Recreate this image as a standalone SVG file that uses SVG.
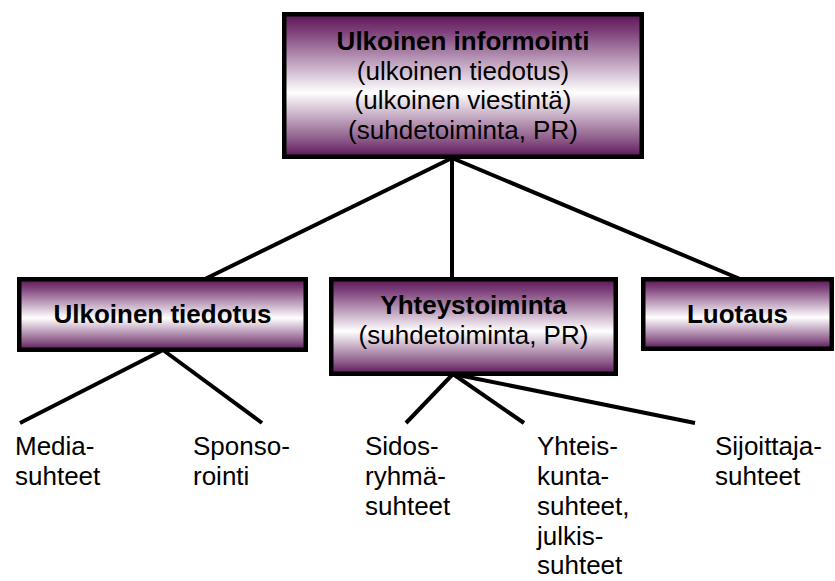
<svg xmlns="http://www.w3.org/2000/svg" width="835" height="581" viewBox="0 0 835 581">
<defs>
<linearGradient id="g" x1="0" y1="0" x2="0" y2="1">
<stop offset="0" stop-color="#5a1656"/>
<stop offset="0.12" stop-color="#7d407a"/>
<stop offset="0.55" stop-color="#ffffff"/>
<stop offset="0.88" stop-color="#8d5a8a"/>
<stop offset="1" stop-color="#5a1656"/>
</linearGradient>
<style>
.box{fill:url(#g);stroke:#000;stroke-width:4.5}
.t{font-family:"Liberation Sans",Arial,sans-serif;font-size:26px;fill:#000;text-anchor:middle}
.b{font-weight:bold}
.lbl{font-family:"Liberation Sans",Arial,sans-serif;font-size:26px;fill:#000}
.c{stroke:#000;stroke-width:4;fill:none}
</style>
</defs>
<rect width="835" height="581" fill="#fff"/>
<g id="connectors">
<line class="c" x1="452" y1="158" x2="205" y2="279"/>
<line class="c" x1="452" y1="158" x2="452" y2="279"/>
<line class="c" x1="452" y1="158" x2="740" y2="279"/>
<line class="c" x1="163" y1="350" x2="20" y2="423"/>
<line class="c" x1="163" y1="350" x2="262" y2="423"/>
<line class="c" x1="453" y1="374" x2="406" y2="423"/>
<line class="c" x1="453" y1="374" x2="524" y2="423"/>
<line class="c" x1="453" y1="374" x2="695" y2="423"/>
</g>
<g id="top">
<rect class="box" x="284.25" y="14.25" width="357.5" height="142.5"/>
<text class="t b" x="463" y="50">Ulkoinen informointi</text>
<text class="t" x="463" y="79.5">(ulkoinen tiedotus)</text>
<text class="t" x="463" y="109">(ulkoinen viestintä)</text>
<text class="t" x="463" y="138.5">(suhdetoiminta, PR)</text>
</g>
<g id="tiedotus">
<rect class="box" x="19.25" y="279.25" width="286.5" height="70.5"/>
<text class="t b" x="162.5" y="323">Ulkoinen tiedotus</text>
</g>
<g id="yhteystoiminta">
<rect class="box" x="331.25" y="279.25" width="284.5" height="94.5"/>
<text class="t b" x="473.5" y="314">Yhteystoiminta</text>
<text class="t" x="473.5" y="344">(suhdetoiminta, PR)</text>
</g>
<g id="luotaus">
<rect class="box" x="643.25" y="279.25" width="188.5" height="69.5"/>
<text class="t b" x="737.5" y="323">Luotaus</text>
</g>
<g id="media">
<text class="lbl" x="15" y="455">Media-</text>
<text class="lbl" x="15" y="485">suhteet</text>
</g>
<g id="sponso">
<text class="lbl" x="193" y="455">Sponso-</text>
<text class="lbl" x="193" y="485">rointi</text>
</g>
<g id="sidos">
<text class="lbl" x="365" y="455">Sidos-</text>
<text class="lbl" x="365" y="485">ryhmä-</text>
<text class="lbl" x="365" y="515">suhteet</text>
</g>
<g id="yhteis">
<text class="lbl" x="537" y="455">Yhteis-</text>
<text class="lbl" x="537" y="485">kunta-</text>
<text class="lbl" x="537" y="515">suhteet,</text>
<text class="lbl" x="537" y="544.5">julkis-</text>
<text class="lbl" x="537" y="573.5">suhteet</text>
</g>
<g id="sijoittaja">
<text class="lbl" x="715" y="455">Sijoittaja-</text>
<text class="lbl" x="715" y="485">suhteet</text>
</g>
</svg>
